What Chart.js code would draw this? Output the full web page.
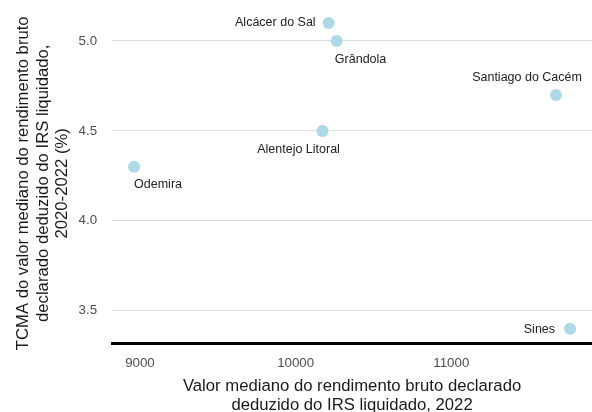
<!DOCTYPE html>
<html>
<head>
<meta charset="utf-8">
<script src="https://cdn.jsdelivr.net/npm/chart.js@4/dist/chart.umd.min.js"></script>
<style>
  body { margin: 0; background: #fff; }
  #wrap { width: 592px; height: 412px; }
</style>
</head>
<body>
<div id="wrap"><canvas id="canvas" width="592" height="412"></canvas></div>
<script>
// dados
const concelhos = ["Alcácer do Sal", "Grândola", "Santiago do Cacém", "Alentejo Litoral", "Odemira", "Sines"];
const rendimento = [10212, 10263, 11673, 10173, 8962, 11763];
const tcma = [5.1, 5.0, 4.7, 4.5, 4.3, 3.4];
const yTicks = [3.5, 4.0, 4.5, 5.0];
const xTicks = [9000, 10000, 11000];

// onde pôr cada etiqueta em relação ao ponto
const labelPos = [
    { dx: -13, dy: 0, align: "right" },
    { dx: 24, dy: 19, align: "center" },
    { dx: -29, dy: -17, align: "center" },
    { dx: -24, dy: 19, align: "center" },
    { dx: 24, dy: 18, align: "center" },
    { dx: -15, dy: 1, align: "right" }
];

const pointLabels = {
    id: "pointLabels",
    afterDatasetsDraw(chart) {
        let ctx = chart.ctx;
        let meta = chart.getDatasetMeta(0);
        ctx.save();
        ctx.font = "12.5px 'Liberation Sans', Arial, sans-serif";
        ctx.fillStyle = "#222";
        ctx.textBaseline = "middle";
        meta.data.forEach(function (pt, i) {
            let p = labelPos[i];
            ctx.textAlign = p.align;
            ctx.fillText(concelhos[i], pt.x + p.dx, pt.y + p.dy);
        });
        ctx.restore();
    }
};

let points = [];
for (let i = 0; i < concelhos.length; i++)
    points.push({ x: rendimento[i], y: tcma[i] });

let c = document.getElementById("canvas");
new Chart(c, {
    type: "scatter",
    data: {
        datasets: [{
            data: points,
            backgroundColor: "#ADD8E6",
            borderWidth: 0,
            pointRadius: 6,
            pointHoverRadius: 6,
            clip: false
        }]
    },
    options: {
        responsive: false,
        animation: false,
        layout: { autoPadding: false, padding: { top: 7, left: 14, right: 0, bottom: 0 } },
        plugins: {
            legend: { display: false },
            tooltip: { enabled: false }
        },
        scales: {
            x: {
                type: "linear",
                min: 8821,
                max: 11904,
                afterBuildTicks: function (axis) {
                    axis.ticks = xTicks.map(v => ({ value: v }));
                },
                grid: { display: false, drawTicks: false },
                border: { display: true, color: "#000", width: 3 },
                ticks: {
                    color: "#4d4d4d",
                    padding: 12,
                    font: { size: 13.3, family: "'Liberation Sans', Arial, sans-serif" },
                    callback: v => String(v)
                },
                title: {
                    display: true,
                    text: ["Valor mediano do rendimento bruto declarado", "deduzido do IRS liquidado, 2022"],
                    color: "#1a1a1a",
                    font: { size: 16.7, family: "'Liberation Sans', Arial, sans-serif", lineHeight: 1.15 },
                    padding: { top: -7, bottom: -3 }
                }
            },
            y: {
                min: 3.317,
                max: 5.1,
                afterBuildTicks: function (axis) {
                    axis.ticks = yTicks.map(v => ({ value: v }));
                },
                grid: { color: "#dedede", lineWidth: 1, drawTicks: false },
                border: { display: false },
                ticks: {
                    color: "#4d4d4d",
                    padding: 15,
                    font: { size: 13.3, family: "'Liberation Sans', Arial, sans-serif" },
                    callback: v => v.toFixed(1)
                },
                title: {
                    display: true,
                    text: ["TCMA do valor mediano do rendimento bruto", "declarado deduzido do IRS liquidado,", "2020-2022 (%)"],
                    color: "#1a1a1a",
                    font: { size: 16.7, family: "'Liberation Sans', Arial, sans-serif", lineHeight: 1.17 },
                    padding: { top: 0, bottom: -9 }
                }
            }
        }
    },
    plugins: [pointLabels]
});
</script>
</body>
</html>
